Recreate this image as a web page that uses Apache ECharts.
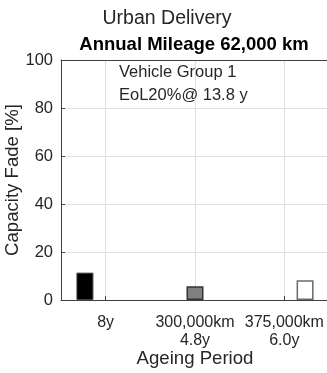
<!DOCTYPE html>
<html>
<head>
<meta charset="utf-8">
<script src="https://cdn.jsdelivr.net/npm/echarts@6/dist/echarts.min.js"></script>
<style>html,body{margin:0;padding:0;background:#fff;}#c{width:327px;height:373px;}</style>
</head>
<body>
<div id="c"></div>
<script>
const categories = ['8y\n', '300,000km\n4.8y', '375,000km\n6.0y'];
const calendarFade = [11.4, null, null];
const cycleFade300 = [null, 5.7, null];
const cycleFade375 = [null, null, 8.2];
const yTicks = [0, 20, 40, 60, 80, 100];

const txt = '#262626';
const font = 'Liberation Sans, Arial, Helvetica, sans-serif';
const chart = echarts.init(document.getElementById('c'), null, {renderer: 'canvas'});
chart.setOption({
  animation: false,
  textStyle: {fontFamily: font, color: txt},
  title: [
    {text: 'Urban Delivery', left: 167, top: 9, textAlign: 'center', padding: 0,
     textStyle: {fontFamily: font, fontSize: 19.5, fontWeight: 'normal', color: txt}},
    {text: 'Annual Mileage 62,000 km', left: 194, top: 35, textAlign: 'center', padding: 0,
     textStyle: {fontFamily: font, fontSize: 18.5, fontWeight: 'bold', color: '#000'}},
    {text: 'Vehicle Group 1', left: 119, top: 64, padding: 0,
     textStyle: {fontFamily: font, fontSize: 16.5, fontWeight: 'normal', color: txt}},
    {text: 'EoL20%@ 13.8 y', left: 119, top: 87, padding: 0,
     textStyle: {fontFamily: font, fontSize: 16.5, fontWeight: 'normal', color: txt}}
  ],
  grid: {left: 61, top: 60, width: 268, height: 240, containLabel: false, outerBoundsMode: 'none'},
  xAxis: [{
    type: 'category', data: categories, position: 'bottom',
    name: 'Ageing Period', nameLocation: 'middle', nameGap: 49, nameMoveOverlap: false,
    nameTextStyle: {fontFamily: font, fontSize: 18.6, color: txt},
    axisLine: {show: true, lineStyle: {color: '#404040', width: 1}},
    axisTick: {show: true, inside: true, alignWithLabel: true, length: 4, lineStyle: {color: '#404040'}},
    axisLabel: {fontFamily: font, fontSize: 16, color: txt, margin: 13, lineHeight: 18.5, interval: 0},
    splitLine: {show: true, alignWithLabel: true, lineStyle: {color: '#dfdfdf', width: 1}}
  }, {
    type: 'category', data: categories, position: 'top',
    axisLine: {show: true, lineStyle: {color: '#404040', width: 1}},
    axisTick: {show: false}, axisLabel: {show: false}, splitLine: {show: false}
  }],
  yAxis: {
    type: 'value', min: yTicks[0], max: yTicks[yTicks.length - 1], interval: 20,
    name: 'Capacity Fade [%]', nameLocation: 'middle', nameGap: 39, nameMoveOverlap: false,
    nameTextStyle: {fontFamily: font, fontSize: 18.6, color: txt},
    axisLine: {show: true, lineStyle: {color: '#404040', width: 1}},
    axisTick: {show: true, inside: true, length: 4, lineStyle: {color: '#404040'}},
    axisLabel: {fontFamily: font, fontSize: 16.5, color: txt, margin: 8},
    splitLine: {show: true, lineStyle: {color: '#dfdfdf', width: 1}}
  },
  series: [
    {type: 'bar', data: calendarFade, barWidth: 17, barGap: '22%',
     itemStyle: {color: '#000', borderColor: '#444', borderWidth: 1}},
    {type: 'bar', data: cycleFade300, barWidth: 17, barGap: '22%',
     itemStyle: {color: '#808080', borderColor: '#333', borderWidth: 1.5}},
    {type: 'bar', data: cycleFade375, barWidth: 17, barGap: '22%',
     itemStyle: {color: '#fff', borderColor: '#6a6a6a', borderWidth: 1.5}}
  ]
});
</script>
</body>
</html>
